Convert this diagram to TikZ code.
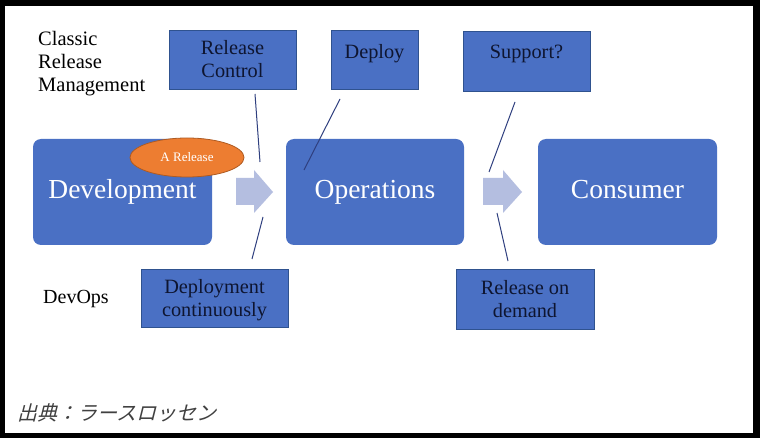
\documentclass[tikz,border=0pt]{standalone}
\usepackage{fontspec}
\setmainfont{Liberation Serif}
\newfontfamily\jpfont[FakeSlant=0.25]{Noto Sans CJK JP}
\definecolor{boxblue}{HTML}{4A70C4}
\definecolor{boxedge}{HTML}{2F528F}
\definecolor{arrowfill}{HTML}{B4BEE0}
\definecolor{relorange}{HTML}{ED7D31}
\definecolor{reledge}{HTML}{AE5A21}
\definecolor{inktext}{HTML}{0E1530}
\definecolor{linkblue}{HTML}{2F3F7F}
\tikzset{
  bigbox/.style={fill=boxblue, rounded corners=8pt},
  bigtext/.style={text=white, font=\fontsize{27.5}{30}\selectfont, anchor=base},
  smallbox/.style={fill=boxblue, draw=boxedge, line width=0.8pt},
  smalltext/.style={text=inktext, font=\fontsize{20.3}{23}\selectfont, align=center},
  plain/.style={text=black, font=\fontsize{20.5}{23}\selectfont, align=left},
  link/.style={draw=linkblue, line width=1pt},
  flowarrow/.style={fill=arrowfill}
}
\begin{document}
\begin{tikzpicture}[x=1pt,y=-1pt]
\useasboundingbox (0,0) rectangle (760,438);
\fill[black] (0,0) rectangle (760,438);
\fill[white] (5,6) rectangle (753,433);

% big boxes
\node[bigbox, minimum width=179pt, minimum height=106pt] (dev) at (122.5,192) {};
\node[bigtext] (devt) at (122.5,199) {Development};
\node[bigbox, minimum width=178pt, minimum height=106pt] (ops) at (375,192) {};
\node[bigtext] (opst) at (375,199) {Operations};
\node[bigbox, minimum width=179pt, minimum height=106pt] (con) at (627.5,192) {};
\node[bigtext] (cont) at (627.5,199) {Consumer};

% release ellipse
\fill[relorange, draw=reledge, line width=0.8pt] (187,157.5) ellipse [x radius=57, y radius=19.5];
\node[text=white, font=\fontsize{13}{15}\selectfont] (rel) at (187,157.5) {A Release};

% flow arrows
\fill[flowarrow] (236,178) -- (254,178) -- (254,170) -- (273,192) -- (254,213) -- (254,205) -- (236,205) -- cycle;
\fill[flowarrow] (483,178) -- (503,178) -- (503,170) -- (522,192) -- (503,213) -- (503,205) -- (483,205) -- cycle;

% small boxes
\node[smallbox, minimum width=127pt, minimum height=59pt] (rc) at (232.5,59.5) {};
\node[smalltext] (rct) at (232.5,59.5) {Release\\Control};
\node[smallbox, minimum width=87pt, minimum height=59pt] (dp) at (374.5,59.5) {};
\node[smalltext] (dpt) at (374.5,54) {Deploy};
\node[smallbox, minimum width=127pt, minimum height=60pt] (sp) at (526.5,61) {};
\node[smalltext] (spt) at (526.5,54) {Support?};
\node[smallbox, minimum width=147pt, minimum height=58pt] (dc) at (214.5,298) {};
\node[smalltext] (dct) at (214.5,300) {Deployment\\continuously};
\node[smallbox, minimum width=138pt, minimum height=60pt] (rd) at (525,299) {};
\node[smalltext] (rdt) at (525,299) {Release on\\demand};

% labels
\node[plain, anchor=north west, inner sep=0pt] (crm) at (38,31) {Classic\\Release\\Management};
\node[plain, anchor=west, inner sep=0pt, font=\fontsize{20}{23}\selectfont] (devops) at (43,299) {DevOps};
\node[anchor=west, inner sep=0pt, text=black!75, font=\jpfont\fontsize{20}{23}\selectfont] (src) at (17,413) {出典：ラースロッセン};

% connector lines
\coordinate (rc1) at (255,94);
\coordinate (rc2) at (260,162);
\coordinate (dp1) at (340,99);
\coordinate (dp2) at (304,170);
\coordinate (sp1) at (515,102);
\coordinate (sp2) at (489,172);
\coordinate (dc1) at (263,217);
\coordinate (dc2) at (252,259);
\coordinate (rd1) at (497,213);
\coordinate (rd2) at (508,261);
\draw[link] (rc1) -- (rc2);
\draw[link] (dp1) -- (dp2);
\draw[link] (sp1) -- (sp2);
\draw[link] (dc1) -- (dc2);
\draw[link] (rd1) -- (rd2);
\end{tikzpicture}
\end{document}
